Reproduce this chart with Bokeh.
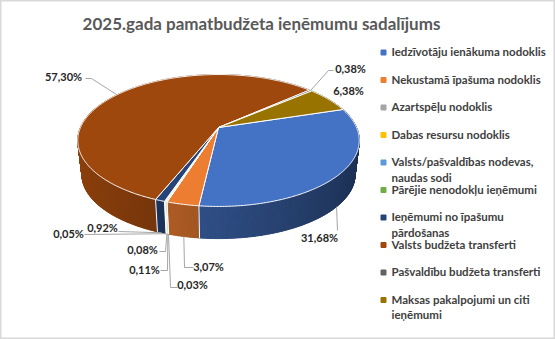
import numpy as np
from bokeh.plotting import figure
from bokeh.models import Range1d
from bokeh.embed import file_html
from bokeh.resources import INLINE
from bokeh.core.properties import value

# ---------------- data ----------------
title_text = "2025.gada pamatbudžeta ieņēmumu sadalījums"
categories = [
    "Iedzīvotāju ienākuma nodoklis",
    "Nekustamā īpašuma nodoklis",
    "Azartspēļu nodoklis",
    "Dabas resursu nodoklis",
    "Valsts/pašvaldības nodevas,\nnaudas sodi",
    "Pārējie nenodokļu ieņēmumi",
    "Ieņēmumi no īpašumu\npārdošanas",
    "Valsts budžeta transferti",
    "Pašvaldību budžeta transferti",
    "Maksas pakalpojumi un citi\nieņēmumi",
]
shares = [31.68, 3.07, 0.03, 0.11, 0.08, 0.05, 0.92, 57.30, 0.38, 6.38]
colors = ["#4472C4", "#ED7D31", "#A5A5A5", "#FFC000", "#5B9BD5",
          "#70AD47", "#264478", "#9E480E", "#636363", "#997300"]
label_texts = [f"{v:.2f}".replace(".", ",") + "%" for v in shares]

# ---------------- layout ----------------
W, H = 555, 339
CX, CY = 218.0, 127.0          # pie vertex (screen px)
S, T, K = 138.0, 63.4, 0.197   # perspective disc projection
BOT_SCALE, BOT_DY = 0.97, 34.5
START = 72.5                   # first slice angle (deg, clockwise from back)

# label centres, leader start and elbow (layout only)
label_pos = [(319, 237), (208, 266), (192, 284), (144, 269), (142, 249),
             (68, 233), (102, 227), (63, 76), (350, 68), (348, 90)]
leader_pts = [((337, 230), (337, 230)), ((193, 267), (184, 267)),
              ((177, 287), (170, 287)), ((160, 270), (167, 270)),
              ((159, 251), (165, 251)), ((84, 234), (84, 234)),
              ((118, 231), (118, 231)), ((85, 78), (91, 78)),
              ((333, 70), (328, 70)), None]

legend_x_marker, legend_x_text = 383, 391
legend_y0, legend_dy = 52, 27.5


def proj(theta_deg, bottom=False):
    th = np.radians(theta_deg)
    u, v = np.sin(th), np.cos(th)
    w = 1 + K * v
    sc = BOT_SCALE if bottom else 1.0
    dy = BOT_DY if bottom else 0.0
    return CX + S * sc * u / w, CY + dy - T * sc * v / w


def shade(hex_color, f):
    h = hex_color.lstrip("#")
    r, g, b = (int(h[i:i + 2], 16) for i in (0, 2, 4))
    return "#%02x%02x%02x" % tuple(int(max(0, min(255, c * f))) for c in (r, g, b))


p = figure(width=W, height=H, x_range=Range1d(0, W), y_range=Range1d(H, 0),
           x_axis_type=None, y_axis_type=None, min_border=0,
           toolbar_location=None, output_backend="svg")
p.grid.visible = False
p.outline_line_color = "#D9D9D9"
p.outline_line_width = 2
p.background_fill_color = "white"
p.border_fill_color = "white"

total = sum(shares)
spans = [s / total * 360.0 for s in shares]
starts = list(START + np.concatenate([[0], np.cumsum(spans)[:-1]]))

# ---- side quads ----
quads = []
for i, (a0, sp) in enumerate(zip(starts, spans)):
    n = max(1, int(np.ceil(sp / 0.5)))
    edges = np.linspace(a0, a0 + sp, n + 1)
    for e0, e1 in zip(edges[:-1], edges[1:]):
        xt0, yt0 = proj(e0)
        xt1, yt1 = proj(e1)
        xb1, yb1 = proj(e1, True)
        xb0, yb0 = proj(e0, True)
        mid = np.radians((e0 + e1) / 2)
        u, v = np.sin(mid), np.cos(mid)
        col = shade(colors[i], 0.66 - 0.24 * u)
        quads.append((v, [xt0, xt1, xb1, xb0], [yt0, yt1, yb1, yb0], col))
quads.sort(key=lambda q: -q[0])
p.patches(xs=[q[1] for q in quads], ys=[q[2] for q in quads],
          fill_color=[q[3] for q in quads], line_color=[q[3] for q in quads],
          line_width=1)

# white separators on visible side
bx, by = [], []
for a in starts:
    am = a % 360
    if 100 < am < 260:
        xt, yt = proj(am)
        xb, yb = proj(am, True)
        bx.append([xt, xb])
        by.append([yt, yb])
if bx:
    p.multi_line(xs=bx, ys=by, line_color="white", line_width=1)

# ---- top face ----
txs, tys = [], []
for a0, sp in zip(starts, spans):
    n = max(2, int(np.ceil(sp / 0.5)) + 1)
    ang = np.linspace(a0, a0 + sp, n)
    x, y = proj(ang)
    txs.append([CX] + list(x))
    tys.append([CY] + list(y))
p.patches(xs=txs, ys=tys, fill_color=colors, line_color="white", line_width=1)

# ---- leader lines ----
lx, ly = [], []
for i, lp in enumerate(leader_pts):
    if lp is None:
        continue
    mid = starts[i] + spans[i] / 2
    back = np.cos(np.radians(mid)) > 0
    ax, ay = proj(mid, bottom=not back)
    lx.append([lp[0][0], lp[1][0], ax])
    ly.append([lp[0][1], lp[1][1], ay])
p.multi_line(xs=lx, ys=ly, line_color="#A6A6A6", line_width=1)

# ---- data labels ----
p.text(x=[q[0] for q in label_pos], y=[q[1] for q in label_pos], text=label_texts,
       text_font=value("Lato"), text_font_style="bold", text_font_size="11px",
       text_color="#262626", text_align="center", text_baseline="middle")

# ---- title ----
p.text(x=[261], y=[23], text=[title_text], text_font=value("Lato"),
       text_font_style="bold", text_font_size="17px", text_color="#595959",
       text_align="center", text_baseline="middle")

# ---- legend ----
ly_pos = [legend_y0 + legend_dy * i for i in range(len(categories))]
p.scatter(x=[legend_x_marker] * len(categories), y=ly_pos, marker="square",
          size=5, fill_color=colors, line_color=colors)
p.text(x=[legend_x_text] * len(categories), y=[y - 7.5 for y in ly_pos],
       text=categories, text_font=value("Lato"), text_font_style="bold",
       text_font_size="11.5px", text_color="#404040", text_align="left",
       text_baseline="top", text_line_height=1.2)

open("out.html", "w").write(file_html(p, INLINE))
